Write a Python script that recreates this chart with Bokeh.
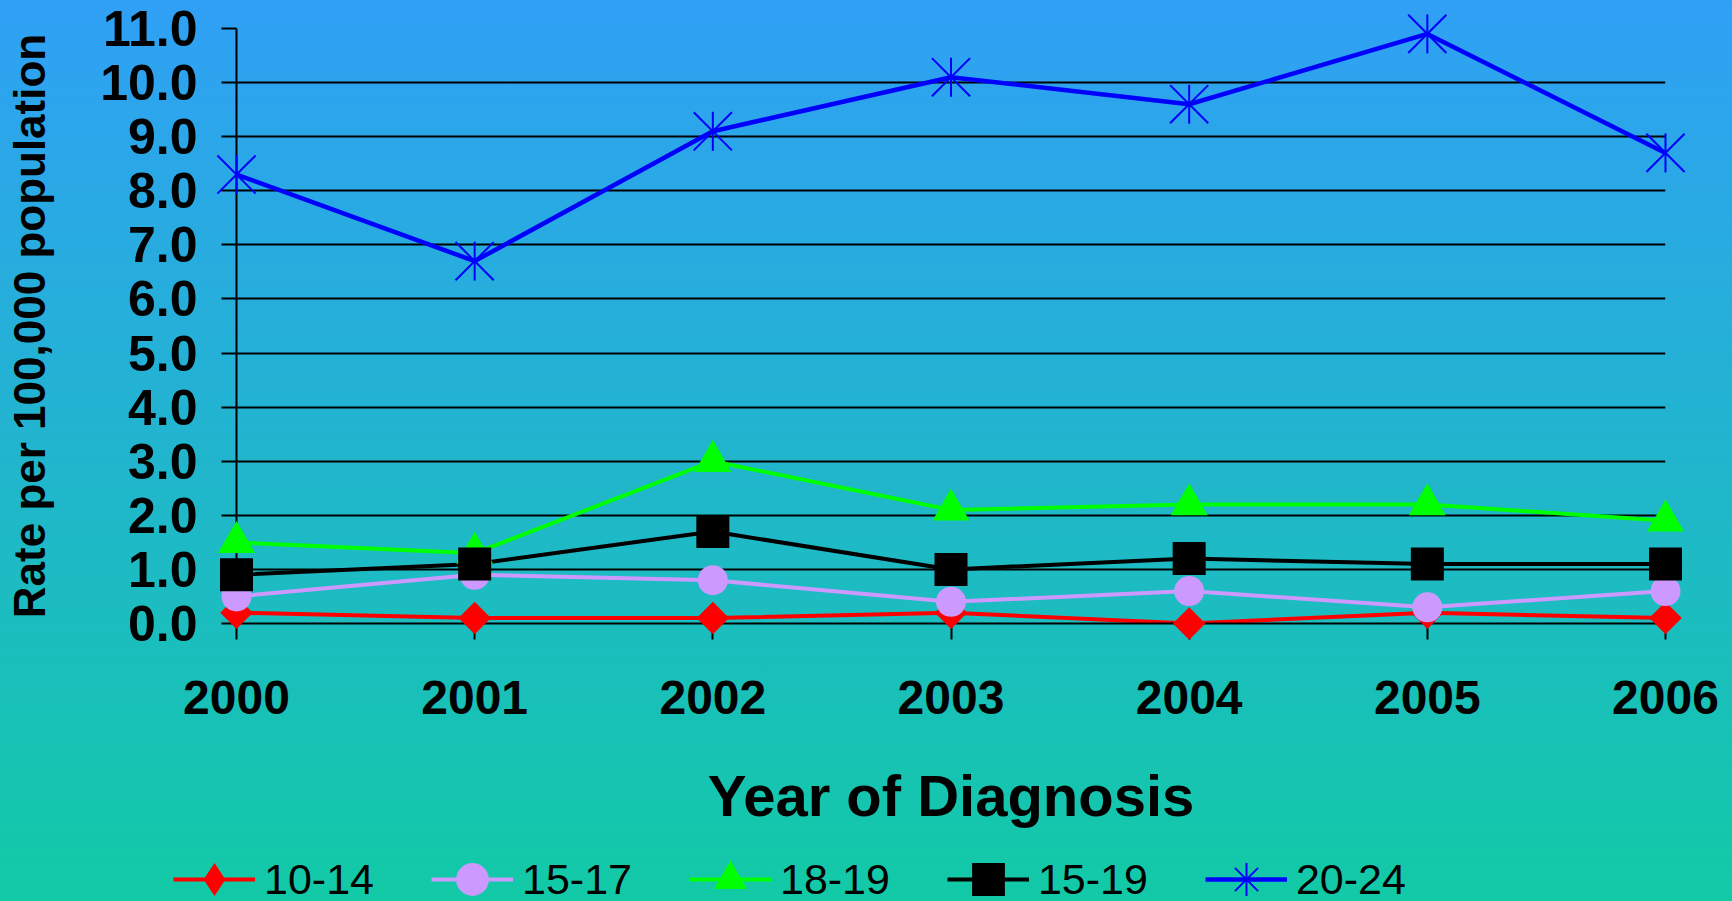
import math
from bokeh.plotting import figure
from bokeh.layouts import column
from bokeh.models import Range1d, NumeralTickFormatter, Legend, LegendItem, ColumnDataSource
from bokeh.embed import file_html
from bokeh.resources import INLINE

# ---- data ----
years = [2000, 2001, 2002, 2003, 2004, 2005, 2006]
rate_10_14 = [0.2, 0.1, 0.1, 0.2, 0.0, 0.2, 0.1]
rate_15_17 = [0.5, 0.9, 0.8, 0.4, 0.6, 0.3, 0.6]
rate_18_19 = [1.5, 1.3, 3.0, 2.1, 2.2, 2.2, 1.9]
rate_15_19 = [0.9, 1.1, 1.7, 1.0, 1.2, 1.1, 1.1]
rate_20_24 = [8.3, 6.7, 9.1, 10.1, 9.6, 10.9, 8.7]
series_labels = ["10-14", "15-17", "18-19", "15-19", "20-24"]
y_ticks = [0, 1, 2, 3, 4, 5, 6, 7, 8, 9, 10, 11]
x_title = "Year of Diagnosis"
y_title = "Rate per 100,000 population"

FONT = "Liberation Sans"
red, lav, green, black, blue = "#FF0000", "#CC99FF", "#00FF00", "#000000", "#0000FF"

# ---------------- main chart ----------------
p = figure(width=1732, height=851, output_backend="svg", toolbar_location=None,
           x_range=Range1d(years[0], years[-1]), y_range=Range1d(y_ticks[0], y_ticks[-1]),
           min_border_left=236, min_border_right=67, min_border_top=28, min_border_bottom=228)
p.background_fill_color = None
p.border_fill_color = None
p.outline_line_color = None

p.xgrid.grid_line_color = None
p.ygrid.grid_line_color = "black"
p.ygrid.grid_line_width = 2

p.yaxis.ticker = y_ticks
p.yaxis.formatter = NumeralTickFormatter(format="0.0")
p.yaxis.axis_line_color = "black"
p.yaxis.axis_line_width = 2
p.yaxis.major_tick_line_width = 2
p.yaxis.major_tick_out = 15
p.yaxis.major_tick_in = 0
p.yaxis.minor_tick_line_color = None
p.yaxis.major_label_standoff = 24
p.yaxis.major_label_text_font = FONT
p.yaxis.major_label_text_font_style = "bold"
p.yaxis.major_label_text_font_size = "50px"
p.yaxis.major_label_text_color = "black"
p.yaxis.axis_label = y_title
p.yaxis.axis_label_text_font = FONT
p.yaxis.axis_label_text_font_style = "bold"
p.yaxis.axis_label_text_font_size = "44px"
p.yaxis.axis_label_text_color = "black"
p.yaxis.axis_label_standoff = 43

p.xaxis.ticker = years
p.xaxis.axis_line_color = "black"
p.xaxis.axis_line_width = 2
p.xaxis.major_tick_line_width = 2
p.xaxis.major_tick_out = 16
p.xaxis.major_tick_in = 0
p.xaxis.minor_tick_line_color = None
p.xaxis.major_label_standoff = 41
p.xaxis.major_label_text_font = FONT
p.xaxis.major_label_text_font_style = "bold"
p.xaxis.major_label_text_font_size = "48px"
p.xaxis.major_label_text_color = "black"
p.xaxis.axis_label = x_title
p.xaxis.axis_label_text_font = FONT
p.xaxis.axis_label_text_font_style = "bold"
p.xaxis.axis_label_text_font_size = "58px"
p.xaxis.axis_label_text_color = "black"
p.xaxis.axis_label_standoff = 46

src = ColumnDataSource(dict(year=years, a=rate_10_14, b=rate_15_17, c=rate_18_19,
                            d=rate_15_19, e=rate_20_24))

p.line("year", "a", source=src, line_color=red, line_width=4)
p.line("year", "b", source=src, line_color=lav, line_width=4)
p.line("year", "c", source=src, line_color=green, line_width=4)
p.line("year", "d", source=src, line_color=black, line_width=4)
p.line("year", "e", source=src, line_color=blue, line_width=4.5)

p.scatter("year", "a", source=src, marker="square", angle=math.pi / 4, size=23,
          fill_color=red, line_color=None, level="overlay")
p.scatter("year", "b", source=src, marker="circle", size=30,
          fill_color=lav, line_color=None, level="overlay")
p.scatter("year", "c", source=src, marker="triangle", size=37,
          fill_color=green, line_color=None, level="overlay")
p.scatter("year", "d", source=src, marker="square", size=33,
          fill_color=black, line_color=None, level="overlay")
p.scatter("year", "e", source=src, marker="x", size=54,
          line_color=blue, line_width=2, level="overlay")
p.scatter("year", "e", source=src, marker="dash", angle=math.pi / 2, size=39,
          line_color=blue, line_width=2, level="overlay")

# ---------------- legend strip ----------------
lf = figure(width=1732, height=50, output_backend="svg", toolbar_location=None,
            x_range=Range1d(0, 1), y_range=Range1d(0, 1),
            x_axis_location=None, y_axis_location=None, min_border=0)
lf.background_fill_color = None
lf.border_fill_color = None
lf.outline_line_color = None
lf.grid.visible = False

legend_x = -63
if hasattr(lf, "frame_align"):
    lf.frame_align = False
    p.frame_align = False
    legend_x = 173

key_src = ColumnDataSource(dict(x=[0.5], y=[float("nan")]))
k_l1 = lf.line("x", "y", source=key_src, line_color=red, line_width=4)
k_m1 = lf.scatter("x", "y", source=key_src, marker="diamond", fill_color=red, line_color=None)
k_l2 = lf.line("x", "y", source=key_src, line_color=lav, line_width=4)
k_m2 = lf.scatter("x", "y", source=key_src, marker="circle", fill_color=lav, line_color=None)
k_l3 = lf.line("x", "y", source=key_src, line_color=green, line_width=4)
k_m3 = lf.scatter("x", "y", source=key_src, marker="triangle", fill_color=green, line_color=None)
k_l4 = lf.line("x", "y", source=key_src, line_color=black, line_width=4)
k_m4 = lf.scatter("x", "y", source=key_src, marker="square", fill_color=black, line_color=None)
k_l5 = lf.line("x", "y", source=key_src, line_color=blue, line_width=4.5)
k_m5 = lf.scatter("x", "y", source=key_src, marker="x", line_color=blue, line_width=2)
k_m5b = lf.scatter("x", "y", source=key_src, marker="cross", line_color=blue, line_width=2)

legend = Legend(items=[
    LegendItem(label=series_labels[0], renderers=[k_l1, k_m1]),
    LegendItem(label=series_labels[1], renderers=[k_l2, k_m2]),
    LegendItem(label=series_labels[2], renderers=[k_l3, k_m3]),
    LegendItem(label=series_labels[3], renderers=[k_l4, k_m4]),
    LegendItem(label=series_labels[4], renderers=[k_l5, k_m5, k_m5b]),
], orientation="horizontal", location=(legend_x, -20))
legend.label_text_font = FONT
legend.label_text_font_size = "43px"
legend.label_text_color = "black"
legend.glyph_width = 82
legend.glyph_height = 84
legend.label_height = 40
legend.label_standoff = 9
legend.spacing = 57
legend.padding = 0
legend.margin = 0
legend.border_line_color = None
legend.background_fill_alpha = 0
lf.add_layout(legend)

layout = column(p, lf, spacing=0)
layout.styles = {"background": "linear-gradient(to bottom, #30A0F6 0%, #12CAA6 100%)"}

open("out.html", "w").write(file_html(layout, INLINE))
